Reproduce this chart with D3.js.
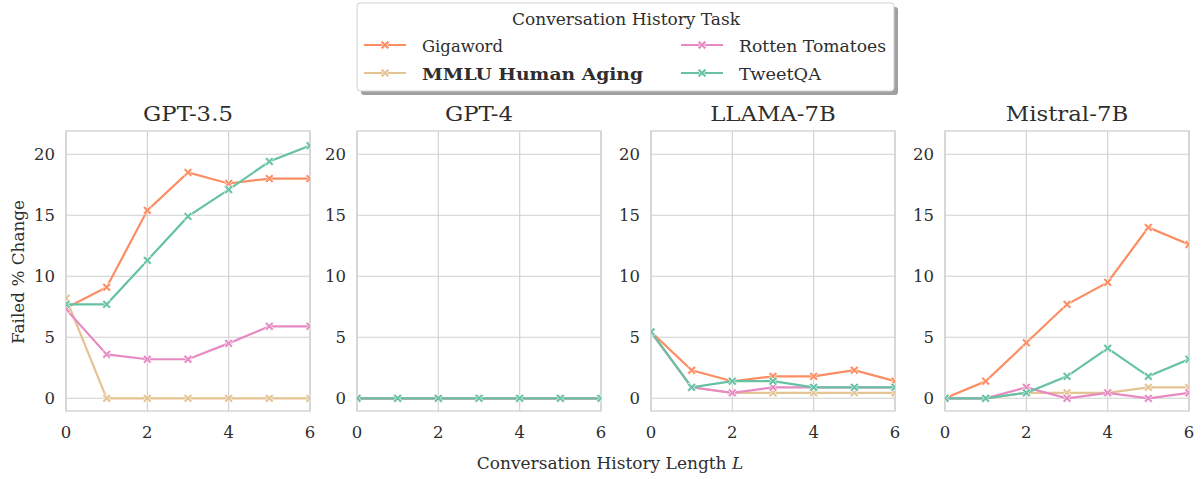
<!DOCTYPE html>
<html><head><meta charset="utf-8">
<script src="https://cdn.jsdelivr.net/npm/d3@7"></script>
<style>body{margin:0;background:#fff;} text{font-family:"DejaVu Serif",serif;fill:#2e2e2e;}</style>
</head><body>
<svg id="c" width="1203" height="479"></svg>
<script>
const xValues = [0,1,2,3,4,5,6];
const models = ["GPT-3.5","GPT-4","LLAMA-7B","Mistral-7B"];
const tasks = ["Gigaword","MMLU Human Aging","Rotten Tomatoes","TweetQA"];
const colors = ["#fc8d62","#e5c494","#e78ac3","#66c2a5"];
const yTicks = [0,5,10,15,20];
const xTicks = [0,2,4,6];
// values[model][task]
const gpt35 = [
  [7.4, 9.1, 15.4, 18.5, 17.6, 18.0, 18.0],
  [8.2, 0, 0, 0, 0, 0, 0],
  [7.3, 3.6, 3.2, 3.2, 4.5, 5.9, 5.9],
  [7.7, 7.7, 11.3, 14.9, 17.1, 19.4, 20.7]
];
const gpt4 = [
  [0,0,0,0,0,0,0],
  [0,0,0,0,0,0,0],
  [0,0,0,0,0,0,0],
  [0,0,0,0,0,0,0]
];
const llama = [
  [5.45, 2.3, 1.4, 1.8, 1.8, 2.3, 1.4],
  [5.45, 0.9, 0.45, 0.45, 0.45, 0.45, 0.45],
  [5.45, 0.9, 0.45, 0.9, 0.9, 0.9, 0.9],
  [5.45, 0.9, 1.4, 1.4, 0.9, 0.9, 0.9]
];
const mistral = [
  [0, 1.4, 4.55, 7.7, 9.5, 14.0, 12.6],
  [0, 0, 0.45, 0.45, 0.45, 0.9, 0.9],
  [0, 0, 0.9, 0, 0.45, 0, 0.45],
  [0, 0, 0.45, 1.8, 4.1, 1.8, 3.2]
];
const allData = [gpt35, gpt4, llama, mistral];

const svg = d3.select("#c");
const panelLefts = [66, 357, 651, 945];
const pw = 244, plotTop = 131, plotBottom = 411;
const y = d3.scaleLinear().domain([-1.04, 21.9]).range([plotBottom, plotTop]);

function stretch(sel, factor){
  const w = sel.node().getComputedTextLength();
  sel.attr("textLength", w*factor).attr("lengthAdjust","spacingAndGlyphs");
}
function fitTo(sel, target){
  sel.attr("textLength", target).attr("lengthAdjust","spacingAndGlyphs");
}

function xMark(g, cx, cy, col){
  const s = 4.4, w = 1.8;
  const p = `M${-s},${-s+w}L${-w},0L${-s},${s-w}L${-s+w},${s}L0,${w}L${s-w},${s}L${s},${s-w}L${w},0L${s},${-s+w}L${s-w},${-s}L0,${-w}L${-s+w},${-s}Z`;
  g.append("path").attr("d",p).attr("transform",`translate(${cx},${cy})`)
    .attr("fill",col).attr("stroke","#fff").attr("stroke-width",0.7);
}

models.forEach((m, mi) => {
  const x0 = panelLefts[mi];
  const x = d3.scaleLinear().domain([0,6]).range([x0, x0+pw]);
  const g = svg.append("g");
  g.selectAll(".gy").data(yTicks).enter().append("line")
    .attr("x1",x0).attr("x2",x0+pw).attr("y1",d=>y(d)).attr("y2",d=>y(d))
    .attr("stroke","#d0d0d0").attr("stroke-width",1.1);
  g.selectAll(".gx").data(xTicks).enter().append("line")
    .attr("y1",plotTop).attr("y2",plotBottom).attr("x1",d=>x(d)).attr("x2",d=>x(d))
    .attr("stroke","#d0d0d0").attr("stroke-width",1.1);
  g.append("rect").attr("x",x0).attr("y",plotTop).attr("width",pw).attr("height",plotBottom-plotTop)
    .attr("fill","none").attr("stroke","#d0d0d0").attr("stroke-width",1.3);
  g.selectAll(".ty").data(yTicks).enter().append("text")
    .attr("x",x0-11).attr("y",d=>y(d)+6).attr("text-anchor","end")
    .attr("font-size",16.5).text(d=>d);
  g.selectAll(".tx").data(xTicks).enter().append("text")
    .attr("x",d=>x(d)).attr("y",438).attr("text-anchor","middle")
    .attr("font-size",16.5).text(d=>d);
  const t = g.append("text").attr("x",x0+pw/2).attr("y",121).attr("text-anchor","middle")
    .attr("font-size",19.5).text(m);
  stretch(t, 1.17);
  const cid = "clip"+mi;
  svg.append("clipPath").attr("id",cid).append("rect")
    .attr("x",x0).attr("y",plotTop).attr("width",pw).attr("height",plotBottom-plotTop);
  const dg = g.append("g").attr("clip-path",`url(#${cid})`);
  const line = d3.line().x((d,i)=>x(xValues[i])).y(d=>y(d));
  allData[mi].forEach((vals, ti) => {
    dg.append("path").attr("d",line(vals)).attr("fill","none")
      .attr("stroke",colors[ti]).attr("stroke-width",2.2);
    vals.forEach((v,i)=> xMark(dg, x(xValues[i]), y(v), colors[ti]));
  });
});

const yl = svg.append("text").attr("transform","translate(24,272) rotate(-90)")
  .attr("text-anchor","middle").attr("font-size",16.5).text("Failed % Change");
stretch(yl, 1.02);
const xl = svg.append("text").attr("x",610).attr("y",469).attr("text-anchor","middle").attr("font-size",17);
xl.append("tspan").text("Conversation History Length ");
xl.append("tspan").attr("font-style","italic").text("L");

const lg = svg.append("g");
lg.append("rect").attr("x",361).attr("y",7).attr("width",537).attr("height",88).attr("rx",3).attr("fill","#a0a0a0");
lg.append("rect").attr("x",357).attr("y",3).attr("width",537).attr("height",88).attr("rx",3)
  .attr("fill","#fff").attr("stroke","#cfcfcf").attr("stroke-width",1);
const lt = lg.append("text").attr("x",626).attr("y",25).attr("text-anchor","middle").attr("font-size",17).text("Conversation History Task");
fitTo(lt, 228);
const pos = [[364,45],[364,73],[681,45],[681,73]];
const legendWidths = [81, 221, 147, 82];
tasks.forEach((t,i)=>{
  const [lx,ly] = pos[i];
  lg.append("line").attr("x1",lx).attr("x2",lx+42).attr("y1",ly).attr("y2",ly)
    .attr("stroke",colors[i]).attr("stroke-width",2.2);
  xMark(lg, lx+21, ly, colors[i]);
  const tt = lg.append("text").attr("x",lx+58).attr("y",ly+7).attr("font-size",17)
    .attr("font-weight", i===1 ? "bold" : "normal").text(t);
  fitTo(tt, legendWidths[i]);
});
</script>
</body></html>
